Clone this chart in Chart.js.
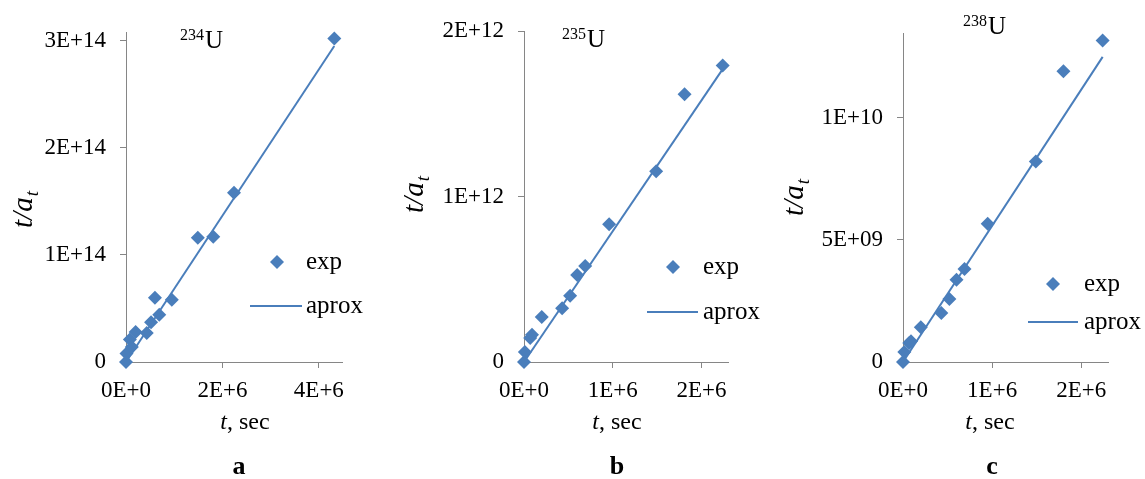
<!DOCTYPE html>
<html lang="en">
<head>
  <meta charset="UTF-8" />
  <title>t/a_t vs t for uranium isotopes</title>
  <script src="https://cdn.jsdelivr.net/npm/chart.js"></script>
  <style>
    body {
      margin: 0;
      background: #fff;
    }
    .panel {
      position: absolute;
      top: 0;
      height: 479px;
    }
  </style>
</head>
<body>
  <div class="panel" style="left:0;width:380px"><canvas id="chartA"></canvas></div>
  <div class="panel" style="left:380px;width:380px"><canvas id="chartB"></canvas></div>
  <div class="panel" style="left:760px;width:385px"><canvas id="chartC"></canvas></div>

  <script>
    // 234U
    const u234Time = [0, 0.01e6, 0.08e6, 0.12e6, 0.2e6, 0.43e6, 0.52e6, 0.6e6, 0.69e6, 0.95e6, 1.49e6, 1.81e6, 2.24e6, 4.32e6];
    const u234Ratio = [0, 0.08e14, 0.21e14, 0.14e14, 0.28e14, 0.27e14, 0.37e14, 0.6e14, 0.44e14, 0.58e14, 1.16e14, 1.17e14, 1.58e14, 3.02e14];
    const u234FitTime = [0, 4.32e6];
    const u234FitRatio = [0, 2.95e14];
    const u234XTicks = [0, 2e6, 4e6];
    const u234XLabels = ['0E+0', '2E+6', '4E+6'];
    const u234YTicks = [0, 1e14, 2e14, 3e14];
    const u234YLabels = ['0', '1E+14', '2E+14', '3E+14'];

    // 235U
    const u235Time = [0, 0.01e6, 0.07e6, 0.09e6, 0.2e6, 0.43e6, 0.52e6, 0.6e6, 0.69e6, 0.96e6, 1.49e6, 1.81e6, 2.24e6];
    const u235Ratio = [0, 0.06e12, 0.145e12, 0.165e12, 0.272e12, 0.325e12, 0.4e12, 0.526e12, 0.58e12, 0.833e12, 1.153e12, 1.618e12, 1.791e12];
    const u235FitTime = [0, 2.24e6];
    const u235FitRatio = [0, 1.77e12];
    const u235XTicks = [0, 1e6, 2e6];
    const u235XLabels = ['0E+0', '1E+6', '2E+6'];
    const u235YTicks = [0, 1e12, 2e12];
    const u235YLabels = ['0', '1E+12', '2E+12'];

    // 238U
    const u238Time = [0, 0.015e6, 0.07e6, 0.09e6, 0.2e6, 0.43e6, 0.52e6, 0.6e6, 0.69e6, 0.95e6, 1.49e6, 1.8e6, 2.24e6];
    const u238Ratio = [0, 0.41e9, 0.78e9, 0.85e9, 1.42e9, 2.01e9, 2.58e9, 3.37e9, 3.81e9, 5.66e9, 8.22e9, 11.91e9, 13.17e9];
    const u238FitTime = [0, 2.24e6];
    const u238FitRatio = [0, 12.5e9];
    const u238XTicks = [0, 1e6, 2e6];
    const u238XLabels = ['0E+0', '1E+6', '2E+6'];
    const u238YTicks = [0, 5e9, 1e10];
    const u238YLabels = ['0', '5E+09', '1E+10'];

    const BLUE = '#4a7ebb';
    const AXIS = '#868686';
    const SERIF = '"Liberation Serif", "Times New Roman", serif';

    // isotope label, axis titles, panel letter and legend
    const decor = {
      id: 'decor',
      afterDraw(chart, args, o) {
        const ctx = chart.ctx;
        ctx.save();
        ctx.fillStyle = '#000';
        ctx.textBaseline = 'alphabetic';
        ctx.textAlign = 'left';

        // mass number + U
        ctx.font = '16px ' + SERIF;
        ctx.fillText(o.mass, o.iso[0], o.iso[1] - 8);
        const mw = ctx.measureText(o.mass).width;
        ctx.font = '25px ' + SERIF;
        ctx.fillText('U', o.iso[0] + mw + 1, o.iso[1]);

        // y title: t/a with subscript t, rotated
        ctx.save();
        ctx.translate(o.yTitle[0], o.yTitle[1]);
        ctx.rotate(-Math.PI / 2);
        ctx.font = 'italic 29px ' + SERIF;
        const mainW = ctx.measureText('t/a').width;
        ctx.font = 'italic 19px ' + SERIF;
        const subW = ctx.measureText('t').width;
        const start = -(mainW + subW) / 2;
        ctx.font = 'italic 29px ' + SERIF;
        ctx.fillText('t/a', start, 0);
        ctx.font = 'italic 19px ' + SERIF;
        ctx.fillText('t', start + mainW + 1, 6);
        ctx.restore();

        // x title: t, sec
        ctx.font = 'italic 24px ' + SERIF;
        const tW = ctx.measureText('t').width;
        ctx.font = '24px ' + SERIF;
        const restW = ctx.measureText(', sec').width;
        const x0 = o.xTitle[0] - (tW + restW) / 2;
        ctx.font = 'italic 24px ' + SERIF;
        ctx.fillText('t', x0, o.xTitle[1]);
        ctx.font = '24px ' + SERIF;
        ctx.fillText(', sec', x0 + tW, o.xTitle[1]);

        // panel letter
        ctx.font = 'bold 26px ' + SERIF;
        ctx.textAlign = 'center';
        ctx.fillText(o.letter, o.letterPos[0], o.letterPos[1]);

        // legend
        const ds = chart.data.datasets;
        ctx.textAlign = 'left';
        ctx.textBaseline = 'middle';
        ctx.font = '25px ' + SERIF;
        ctx.fillStyle = ds[0].backgroundColor;
        Chart.helpers.drawPoint(ctx, { pointStyle: ds[0].pointStyle, radius: ds[0].pointRadius, borderWidth: 0 },
          o.legMarker[0], o.legMarker[1]);
        ctx.fillStyle = '#000';
        ctx.fillText(ds[0].label, o.legText, o.legMarker[1]);
        ctx.strokeStyle = ds[1].borderColor;
        ctx.lineWidth = ds[1].borderWidth;
        ctx.beginPath();
        ctx.moveTo(o.legLine[0], o.legLine[2]);
        ctx.lineTo(o.legLine[1], o.legLine[2]);
        ctx.stroke();
        ctx.fillText(ds[1].label, o.legText, o.legLine[2]);
        ctx.restore();
      }
    };

    function makeChart(id, p) {
      const points = p.time.map((t, i) => ({ x: t, y: p.ratio[i] }));
      const fit = p.fitTime.map((t, i) => ({ x: t, y: p.fitRatio[i] }));
      const tickFont = { family: SERIF, size: 23 };
      return new Chart(document.getElementById(id), {
        type: 'scatter',
        data: {
          datasets: [
            {
              label: 'exp', data: points, pointStyle: 'rectRot', pointRadius: 7, pointHoverRadius: 7,
              backgroundColor: BLUE, borderColor: BLUE, borderWidth: 0, clip: false
            },
            {
              label: 'aprox', data: fit, showLine: true, pointRadius: 0, pointHoverRadius: 0,
              borderColor: BLUE, backgroundColor: BLUE, borderWidth: 2, fill: false, clip: false
            }
          ]
        },
        options: {
          responsive: true,
          maintainAspectRatio: false,
          animation: false,
          events: [],
          layout: { padding: { top: p.top, right: p.right, bottom: 0, left: 0 } },
          plugins: { legend: { display: false }, tooltip: { enabled: false }, decor: p.decor },
          scales: {
            x: {
              type: 'linear', min: 0, max: p.xMax,
              afterBuildTicks: s => { s.ticks = p.xTicks.map(v => ({ value: v })); },
              afterFit: s => { s.height = 479 - 362; },
              ticks: {
                callback: (v, i) => p.xLabels[i], font: tickFont, color: '#000',
                padding: 9, maxRotation: 0, autoSkip: false
              },
              grid: { drawOnChartArea: false, drawTicks: true, tickLength: 6, color: AXIS },
              border: { color: AXIS, width: 1 }
            },
            y: {
              type: 'linear', min: 0, max: p.yMax,
              afterBuildTicks: s => { s.ticks = p.yTicks.map(v => ({ value: v })); },
              afterFit: s => { s.width = p.left; },
              ticks: { callback: (v, i) => p.yLabels[i], font: tickFont, color: '#000', padding: 14, autoSkip: false },
              grid: { drawOnChartArea: false, drawTicks: true, tickLength: 6, color: AXIS },
              border: { color: AXIS, width: 1 }
            }
          }
        },
        plugins: [decor]
      });
    }

    makeChart('chartA', {
      time: u234Time, ratio: u234Ratio, fitTime: u234FitTime, fitRatio: u234FitRatio,
      xTicks: u234XTicks, xLabels: u234XLabels, yTicks: u234YTicks, yLabels: u234YLabels,
      xMax: 4.48e6, yMax: 3.08e14, left: 126, right: 38, top: 32,
      decor: {
        mass: '234', iso: [180, 48], yTitle: [32, 210], xTitle: [245, 429], letter: 'a', letterPos: [239, 474],
        legMarker: [277, 262], legLine: [250, 302, 306], legText: 306
      }
    });

    makeChart('chartB', {
      time: u235Time, ratio: u235Ratio, fitTime: u235FitTime, fitRatio: u235FitRatio,
      xTicks: u235XTicks, xLabels: u235XLabels, yTicks: u235YTicks, yLabels: u235YLabels,
      xMax: 2.3e6, yMax: 2e12, left: 144, right: 32, top: 31,
      decor: {
        mass: '235', iso: [182, 47], yTitle: [43, 195], xTitle: [237, 429], letter: 'b', letterPos: [237, 474],
        legMarker: [293, 267], legLine: [267, 318, 312], legText: 323
      }
    });

    makeChart('chartC', {
      time: u238Time, ratio: u238Ratio, fitTime: u238FitTime, fitRatio: u238FitRatio,
      xTicks: u238XTicks, xLabels: u238XLabels, yTicks: u238YTicks, yLabels: u238YLabels,
      xMax: 2.3e6, yMax: 1.348e10, left: 143, right: 37, top: 33,
      decor: {
        mass: '238', iso: [203, 34], yTitle: [43, 198], xTitle: [230, 429], letter: 'c', letterPos: [232, 474],
        legMarker: [293, 284], legLine: [268, 318, 322], legText: 324
      }
    });
  </script>
</body>
</html>
